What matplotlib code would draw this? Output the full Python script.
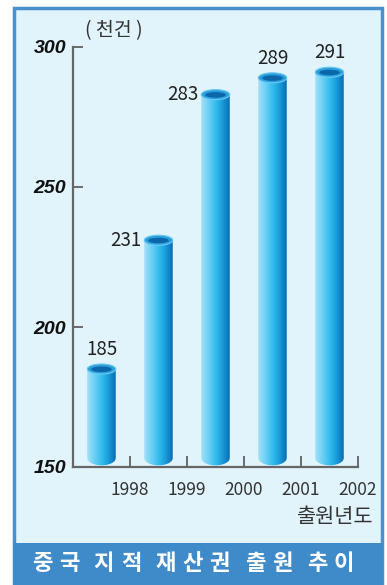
import matplotlib.pyplot as plt
import numpy as np
from matplotlib.patches import Rectangle, Ellipse, PathPatch
from matplotlib.path import Path
from matplotlib.colors import LinearSegmentedColormap

plt.rcParams['font.family'] = ['Noto Sans CJK KR', 'DejaVu Sans']

# data
years = ['1998', '1999', '2000', '2001', '2002']
values = [185, 231, 283, 289, 291]
y_ticks = [150, 200, 250, 300]
unit_label = '( 천건 )'
x_title = '출원년도'
title = '중국 지적 재산권 출원 추이'

# label placement per bar (style)
label_side = ['top', 'left', 'left', 'top', 'top']

W, H = 387, 585
fig = plt.figure(figsize=(W / 100, H / 100), dpi=100)

# frame + title band (behind the axes)
fig.patches.append(Rectangle((14 / W, 0), (382 - 14) / W, (585 - 8) / H, transform=fig.transFigure,
                             facecolor='#e1f3fb', edgecolor='#4a90cd', linewidth=2.5, zorder=-2))
fig.patches.append(Rectangle((13 / W, 0), (383 - 13) / W, (585 - 543) / H, transform=fig.transFigure,
                             facecolor='#3f8bc9', edgecolor='none', zorder=-1))

ax = fig.add_axes([73 / W, (H - 467) / H, (358 - 73) / W, (467 - 47) / H])
ax.set_facecolor('none')

cmap = LinearSegmentedColormap.from_list('cyl', [(0, '#a4e0f8'), (0.3, '#62cdf4'), (0.55, '#2cb9ec'),
                                                 (0.8, '#1592d4'), (1, '#0a6cb2')])
grad = np.linspace(0, 1, 64).reshape(1, -1)

bw = 0.5          # bar width in x units
cap_h = 3.6       # top ellipse height in y units
bot = 153.2       # body bottom (center of bottom rounding)
bot_r = 2.6

for i, v in enumerate(values):
    xc = i + 0.5
    x0, x1 = xc - bw / 2, xc + bw / 2
    t = np.linspace(0, np.pi, 40)
    ex = xc + bw / 2 * np.cos(t)
    ey = bot - bot_r * np.sin(t)
    verts = [(x0, v), (x1, v)] + list(zip(ex, ey)) + [(x0, v)]
    codes = [Path.MOVETO] + [Path.LINETO] * (len(verts) - 2) + [Path.CLOSEPOLY]
    patch = PathPatch(Path(verts, codes), facecolor='none', edgecolor='none')
    ax.add_patch(patch)
    im = ax.imshow(grad, cmap=cmap, extent=[x0, x1, 149, v], aspect='auto', zorder=2)
    im.set_clip_path(patch)
    ax.add_patch(Ellipse((xc, v), bw, cap_h, facecolor='#2b9fdc', edgecolor='#6ccbf2', lw=0.8, zorder=3))
    ax.add_patch(Ellipse((xc, v - 0.1), bw * 0.72, cap_h * 0.55, facecolor='#0b67ab', edgecolor='none', zorder=4))

    if label_side[i] == 'top':
        ax.text(xc, v + 7, str(v), ha='center', va='center', fontsize=13.5, color='#222222')
    else:
        ax.text(x0 - 0.05, v, str(v), ha='right', va='center', fontsize=13.5, color='#222222')

ax.set_xlim(0, 5)
ax.set_ylim(150, 300)
ax.set_xticks(range(1, 6))
ax.set_xticklabels(years, fontsize=12.5, color='#333333')
ax.set_yticks(y_ticks)
ax.set_yticklabels([str(t) for t in y_ticks], fontsize=14, fontweight='bold', fontstyle='italic',
                   family='Liberation Sans', color='#111111')
ax.tick_params(axis='x', direction='in', length=8, width=1.2, color='#555555', pad=10)
ax.tick_params(axis='y', direction='in', length=7, width=1.2, color='#555555', pad=5)
for s in ['top', 'right']:
    ax.spines[s].set_visible(False)
for s in ['left', 'bottom']:
    ax.spines[s].set_color('#666666')
    ax.spines[s].set_linewidth(1.6)

fig.text(114 / W, 1 - 31 / H, unit_label, ha='center', va='center', fontsize=14, color='#333333')
fig.text(373 / W, 1 - 517 / H, x_title, ha='right', va='center', fontsize=15, color='#333333')

# title, char by char with wide spacing
x = 32
for ch in title:
    if ch == ' ':
        x += 8
        continue
    fig.text((x + 10) / W, 1 - 564 / H, ch, ha='center', va='center', fontsize=16,
             fontweight='bold', color='white')
    x += 27

fig.savefig('out.png', dpi=100)
